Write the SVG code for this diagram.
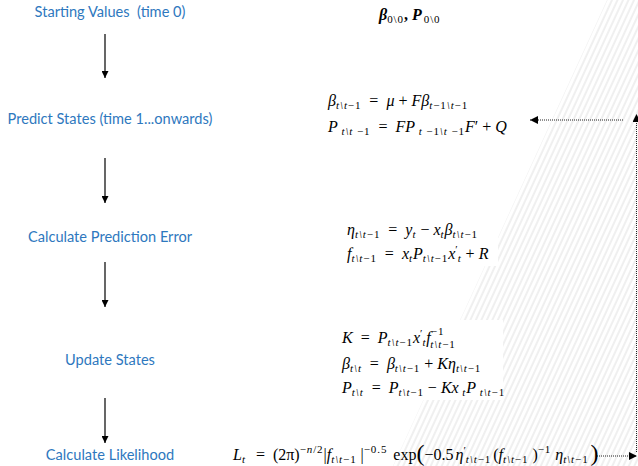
<svg xmlns="http://www.w3.org/2000/svg" width="638" height="466" viewBox="0 0 638 466">
<style>
.lbl{font-family:Lato,"Open Sans",sans-serif;font-size:14.6px;fill:#2E78BE;text-anchor:middle}
.m{font-family:"Liberation Serif",serif;font-style:italic;font-size:16px;fill:#000}
.r{font-style:normal}
.s{font-size:11px;letter-spacing:0.9px}
.arr{stroke:#000;stroke-width:1.2;fill:none}
.dot{stroke:#222;stroke-width:1;stroke-dasharray:1 1;fill:none}
</style>
<defs>
<marker id="ah" viewBox="0 0 10 10" refX="10" refY="5" markerWidth="7" markerHeight="7" markerUnits="userSpaceOnUse" orient="auto">
<path d="M0,0 L10,5 L0,10 z" fill="#000"/>
</marker>
<marker id="dh" viewBox="0 0 10 10" refX="10" refY="5" markerWidth="9" markerHeight="8" markerUnits="userSpaceOnUse" orient="auto">
<path d="M0,0 L10,5 L0,10 z" fill="#000"/>
</marker>
<pattern id="hatch" width="5" height="20" patternUnits="userSpaceOnUse" patternTransform="rotate(24.7)">
<line x1="1" y1="0" x2="1" y2="20" stroke="#dcdcdc" stroke-width="0.9"/>
</pattern>
</defs>
<rect width="638" height="466" fill="#fff"/>
<g id="hatching">
<polygon points="607,0 638,0 638,466 393,466" fill="url(#hatch)"/>
</g>
<g id="connectors">
<line class="arr" x1="105" y1="34" x2="105" y2="78" marker-end="url(#ah)"/>
<line class="arr" x1="105" y1="158" x2="105" y2="203" marker-end="url(#ah)"/>
<line class="arr" x1="105" y1="262" x2="105" y2="307" marker-end="url(#ah)"/>
<line class="arr" x1="105" y1="398" x2="105" y2="443" marker-end="url(#ah)"/>
<line class="dot" x1="597" y1="456" x2="637" y2="456" marker-end="url(#dh)"/>
<line class="dot" x1="636.5" y1="452" x2="636.5" y2="114" marker-end="url(#dh)"/>
<line class="dot" x1="623" y1="120" x2="530" y2="120" marker-end="url(#dh)"/>
</g>
<g id="start">
<text class="lbl" x="110" y="17" xml:space="preserve">Starting Values  (time 0)</text>
<text class="m" x="379" y="20" font-weight="bold" xml:space="preserve">β<tspan class="s r" dy="3" font-weight="normal" letter-spacing="2">0\0</tspan><tspan dy="-3" class="r">, </tspan>P<tspan class="s r" dy="3" font-weight="normal" dx="2" letter-spacing="2">0\0</tspan></text>
</g>
<g id="predict">
<text class="lbl" x="110" y="124">Predict States (time 1...onwards)</text>
<text class="m" x="328" y="106" xml:space="preserve">β<tspan class="s" dy="3">t\t<tspan class="r">−1</tspan></tspan><tspan dy="-3" class="r">  =  </tspan>μ<tspan class="r"> + </tspan>Fβ<tspan class="s" dy="3">t<tspan class="r">−1</tspan>\t<tspan class="r">−1</tspan></tspan></text>
<text class="m" x="328" y="132" xml:space="preserve">P<tspan class="s" dy="3"> t\t <tspan class="r">−1</tspan></tspan><tspan dy="-3" class="r">  =  </tspan>FP<tspan class="s" dy="3"> t <tspan class="r">−1</tspan>\t <tspan class="r">−1</tspan></tspan><tspan dy="-3">F</tspan><tspan class="r">′ + </tspan>Q</text>
</g>
<g id="error">
<text class="lbl" x="110" y="242">Calculate Prediction Error</text>
<rect x="340" y="214" width="158" height="52" fill="#fff"/>
<text class="m" x="347" y="235" xml:space="preserve">η<tspan class="s" dy="3">t\t<tspan class="r">−1</tspan></tspan><tspan dy="-3" class="r">  =  </tspan>y<tspan class="s" dy="3">t</tspan><tspan dy="-3" class="r"> − </tspan>x<tspan class="s" dy="3">t</tspan><tspan dy="-3">β</tspan><tspan class="s" dy="3">t\t<tspan class="r">−1</tspan></tspan></text>
<text class="m" x="347" y="259" xml:space="preserve">f<tspan class="s" dy="3">t\t<tspan class="r">−1</tspan></tspan><tspan dy="-3" class="r">  =  </tspan>x<tspan class="s" dy="3">t</tspan><tspan dy="-3">P</tspan><tspan class="s" dy="3">t\t<tspan class="r">−1</tspan></tspan><tspan dy="-3">x</tspan><tspan class="r" dy="-6" font-size="11">′</tspan><tspan class="s" dy="9">t</tspan><tspan dy="-3" class="r"> + </tspan>R</text>
</g>
<g id="update">
<text class="lbl" x="110" y="365">Update States</text>
<rect x="335" y="320" width="168" height="80" fill="#fff"/>
<text class="m" x="342" y="343" xml:space="preserve">K<tspan class="r">  =  </tspan>P<tspan class="s" dy="3">t\t<tspan class="r">−1</tspan></tspan><tspan dy="-3">x</tspan><tspan class="r" dy="-6" font-size="11">′</tspan><tspan class="s" dy="9">t</tspan><tspan dy="-3">f</tspan><tspan class="s r" dy="-8">−1</tspan><tspan class="s" dy="12.5" dx="-14">t\t<tspan class="r">−1</tspan></tspan></text>
<text class="m" x="342" y="369" xml:space="preserve">β<tspan class="s" dy="3">t\t</tspan><tspan dy="-3" class="r">  =  </tspan>β<tspan class="s" dy="3">t\t<tspan class="r">−1</tspan></tspan><tspan dy="-3" class="r"> + </tspan>Kη<tspan class="s" dy="3">t\t<tspan class="r">−1</tspan></tspan></text>
<text class="m" x="342" y="393" xml:space="preserve">P<tspan class="s" dy="3">t\t</tspan><tspan dy="-3" class="r">  =  </tspan>P<tspan class="s" dy="3">t\t<tspan class="r">−1</tspan></tspan><tspan dy="-3" class="r"> − </tspan>Kx<tspan class="s" dy="3"> t</tspan><tspan dy="-3">P</tspan><tspan class="s" dy="3"> t\t<tspan class="r">−1</tspan></tspan></text>
</g>
<g id="likelihood">
<text class="lbl" x="110" y="460">Calculate Likelihood</text>
<text class="m" x="233" y="460" xml:space="preserve">L<tspan class="s" dy="3">t</tspan><tspan dy="-3" class="r" dx="2">  =  (2π)</tspan><tspan class="s" dy="-7"><tspan class="r">−</tspan>n<tspan class="r">/2</tspan></tspan><tspan dy="7" class="r">|</tspan>f<tspan class="s" dy="3">t\t<tspan class="r">−1</tspan></tspan><tspan dy="-3" class="r"> |</tspan><tspan class="s r" dy="-7">−0.5</tspan><tspan class="r" dy="7" dx="2"> exp</tspan><tspan class="r" font-size="24" dy="1">(</tspan><tspan class="r" dy="-1">−0.5</tspan><tspan dx="2">η</tspan><tspan class="r" dy="-6" font-size="11">′</tspan><tspan class="s" dy="9">t\t<tspan class="r">−1</tspan></tspan><tspan dy="-3" class="r" dx="2">(</tspan>f<tspan class="s" dy="3">t\t<tspan class="r">−1</tspan></tspan><tspan dy="-3" class="r"> )</tspan><tspan class="s r" dy="-7">−1</tspan><tspan dy="7"> η</tspan><tspan class="s" dy="3">t\t<tspan class="r">−1</tspan></tspan><tspan class="r" font-size="24" dy="-2" dx="2">)</tspan></text>
</g>
</svg>
